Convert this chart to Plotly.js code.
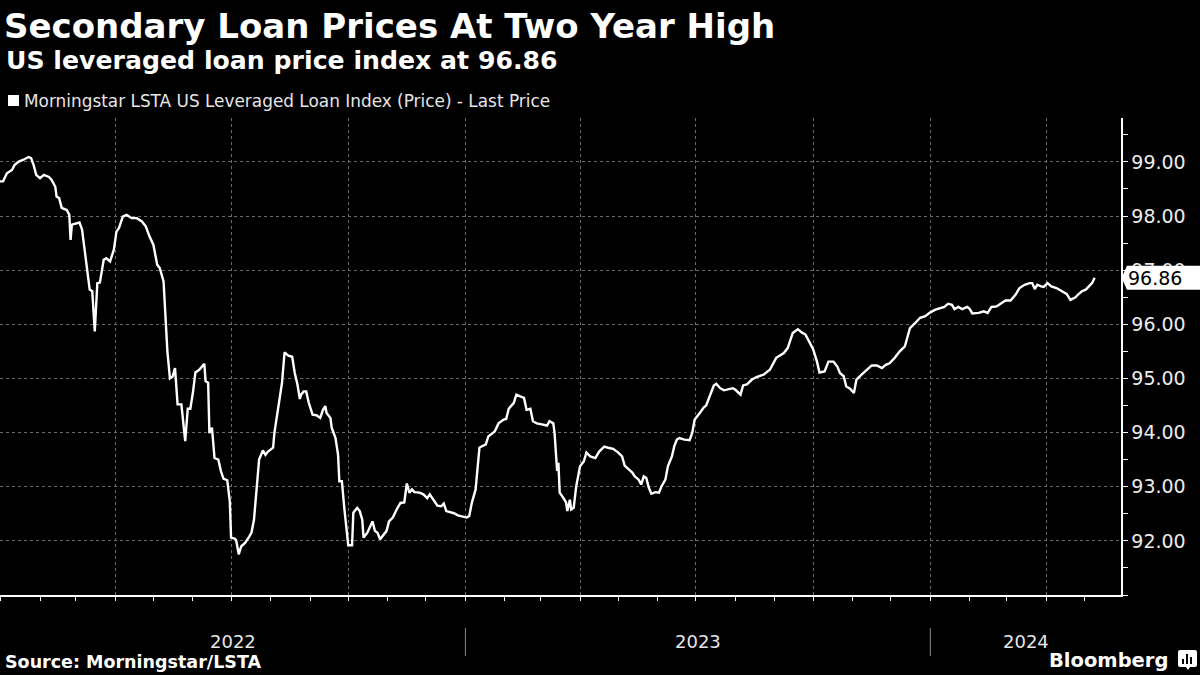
<!DOCTYPE html>
<html>
<head>
<meta charset="utf-8">
<script src="https://cdn.plot.ly/plotly-3.0.1.min.js"></script>
<style>
  html, body { margin:0; padding:0; background:#000; }
  #chart { width:1200px; height:675px; }
</style>
</head>
<body>
<div id="chart"></div>
<script>
// ---------------- DATA ----------------
const chartTitle = "Secondary Loan Prices At Two Year High";
const chartSubtitle = "US leveraged loan price index at 96.86";
const seriesName = "Morningstar LSTA US Leveraged Loan Index (Price) - Last Price";
const sourceText = "Source: Morningstar/LSTA";
const yearLabels = ["2022", "2023", "2024"];
const yTickValues = [92, 93, 94, 95, 96, 97, 98, 99];
const xRange = ["2021-12-31 14:00", "2024-05-29 17:00"];
const yRange = [91.0, 99.81];

const dates = [
"2021-12-31","2022-01-03","2022-01-06","2022-01-10","2022-01-12","2022-01-15","2022-01-19","2022-01-23","2022-01-25","2022-01-27",
"2022-01-29","2022-02-01","2022-02-04","2022-02-08","2022-02-10","2022-02-13","2022-02-14","2022-02-16","2022-02-18","2022-02-22",
"2022-02-24","2022-02-25","2022-02-26","2022-03-02","2022-03-04","2022-03-06","2022-03-08","2022-03-10","2022-03-12","2022-03-14",
"2022-03-16","2022-03-18","2022-03-20","2022-03-23","2022-03-25","2022-03-28","2022-03-31","2022-04-02","2022-04-04","2022-04-07",
"2022-04-10","2022-04-14","2022-04-18","2022-04-22","2022-04-25","2022-04-28","2022-05-01","2022-05-04","2022-05-06","2022-05-09",
"2022-05-10","2022-05-12","2022-05-14","2022-05-16","2022-05-18","2022-05-20","2022-05-23","2022-05-24","2022-05-26","2022-05-28",
"2022-05-30","2022-06-01","2022-06-03","2022-06-06","2022-06-08","2022-06-10","2022-06-11","2022-06-13","2022-06-14","2022-06-16",
"2022-06-18","2022-06-21","2022-06-23","2022-06-25","2022-06-28","2022-06-30","2022-07-01","2022-07-04","2022-07-05","2022-07-07",
"2022-07-09","2022-07-12","2022-07-15","2022-07-17","2022-07-19","2022-07-21","2022-07-23","2022-07-26","2022-07-28","2022-07-30",
"2022-08-03","2022-08-04","2022-08-07","2022-08-10","2022-08-12","2022-08-15","2022-08-18","2022-08-20","2022-08-22","2022-08-24",
"2022-08-25","2022-08-27","2022-08-29","2022-08-31","2022-09-03","2022-09-06","2022-09-09","2022-09-11","2022-09-13","2022-09-14",
"2022-09-17","2022-09-18","2022-09-21","2022-09-23","2022-09-24","2022-09-26","2022-09-28","2022-10-01","2022-10-04","2022-10-05",
"2022-10-08","2022-10-10","2022-10-12","2022-10-13","2022-10-16","2022-10-18","2022-10-20","2022-10-22","2022-10-24","2022-10-26",
"2022-10-28","2022-10-31","2022-11-02","2022-11-05","2022-11-08","2022-11-11","2022-11-14","2022-11-15","2022-11-16","2022-11-18",
"2022-11-20","2022-11-22","2022-11-26","2022-11-29","2022-12-02","2022-12-04","2022-12-07","2022-12-10","2022-12-13","2022-12-15",
"2022-12-17","2022-12-20","2022-12-23","2022-12-26","2022-12-30","2023-01-02","2023-01-04","2023-01-06","2023-01-09","2023-01-10",
"2023-01-12","2023-01-15","2023-01-17","2023-01-19","2023-01-22","2023-01-24","2023-01-27","2023-01-31","2023-02-02","2023-02-04",
"2023-02-08","2023-02-10","2023-02-13","2023-02-16","2023-02-18","2023-02-21","2023-02-23","2023-02-26","2023-03-02","2023-03-06",
"2023-03-08","2023-03-11","2023-03-12","2023-03-14","2023-03-15","2023-03-16","2023-03-19","2023-03-21","2023-03-22","2023-03-24",
"2023-03-25","2023-03-27","2023-03-29","2023-04-01","2023-04-04","2023-04-06","2023-04-09","2023-04-13","2023-04-16","2023-04-20",
"2023-04-23","2023-04-27","2023-05-01","2023-05-04","2023-05-06","2023-05-09","2023-05-12","2023-05-14","2023-05-17","2023-05-19",
"2023-05-21","2023-05-23","2023-05-25","2023-05-27","2023-05-30","2023-06-02","2023-06-04","2023-06-07","2023-06-09","2023-06-12",
"2023-06-14","2023-06-16","2023-06-18","2023-06-22","2023-06-26","2023-06-28","2023-06-30","2023-07-04","2023-07-07","2023-07-09",
"2023-07-12","2023-07-15","2023-07-17","2023-07-20","2023-07-23","2023-07-26","2023-07-30","2023-08-01","2023-08-05","2023-08-07",
"2023-08-10","2023-08-14","2023-08-18","2023-08-23","2023-08-28","2023-09-02","2023-09-08","2023-09-11","2023-09-15","2023-09-19",
"2023-09-22","2023-09-25","2023-09-27","2023-10-01","2023-10-04","2023-10-06","2023-10-10","2023-10-13","2023-10-17","2023-10-20",
"2023-10-22","2023-10-25","2023-10-27","2023-10-30","2023-11-02","2023-11-04","2023-11-08","2023-11-12","2023-11-16","2023-11-20",
"2023-11-24","2023-11-27","2023-11-30","2023-12-04","2023-12-08","2023-12-12","2023-12-16","2023-12-20","2023-12-24","2023-12-28",
"2024-01-01","2024-01-05","2024-01-09","2024-01-12","2024-01-15","2024-01-18","2024-01-20","2024-01-23","2024-01-26","2024-01-30",
"2024-02-01","2024-02-03","2024-02-08","2024-02-12","2024-02-15","2024-02-18","2024-02-22","2024-02-26","2024-02-29","2024-03-04",
"2024-03-08","2024-03-11","2024-03-15","2024-03-19","2024-03-21","2024-03-23","2024-03-25","2024-03-28","2024-03-30","2024-04-02",
"2024-04-05","2024-04-09","2024-04-13","2024-04-17","2024-04-20","2024-04-24","2024-04-26","2024-04-29","2024-05-02","2024-05-04",
"2024-05-07","2024-05-09"
];

const prices = [
98.64,98.64,98.79,98.85,98.94,99.00,99.04,99.09,99.07,98.94,
98.76,98.70,98.76,98.72,98.67,98.54,98.36,98.33,98.15,98.11,
98.02,97.56,97.84,97.87,97.88,97.75,97.38,97.04,96.64,96.61,
95.87,96.76,96.77,97.19,97.22,97.16,97.38,97.71,97.78,97.99,
98.02,97.96,97.96,97.90,97.81,97.62,97.47,97.10,97.04,96.79,
96.33,95.50,95.00,95.03,95.19,94.52,94.52,94.27,93.84,94.44,
94.44,94.73,95.11,95.16,95.22,95.27,94.95,94.92,93.99,94.09,
93.53,93.50,93.29,93.15,93.12,92.73,92.06,92.04,92.01,91.75,
91.90,91.96,92.07,92.15,92.39,93.01,93.50,93.67,93.59,93.65,
93.72,93.99,94.46,94.92,95.48,95.42,95.40,95.10,94.90,94.62,
94.70,94.76,94.76,94.55,94.33,94.32,94.27,94.41,94.49,94.36,
94.27,94.09,93.90,93.59,93.10,93.10,92.58,91.92,91.92,92.52,
92.61,92.55,92.39,92.06,92.15,92.24,92.36,92.18,92.15,92.03,
92.09,92.18,92.36,92.43,92.58,92.70,92.71,92.95,93.06,92.89,
92.95,92.90,92.89,92.86,92.79,92.86,92.76,92.65,92.64,92.69,
92.55,92.53,92.51,92.47,92.44,92.43,92.46,92.70,92.95,93.19,
93.72,93.76,93.78,93.93,93.99,94.02,94.17,94.24,94.25,94.44,
94.55,94.70,94.67,94.64,94.42,94.44,94.21,94.17,94.15,94.13,
94.21,94.17,93.99,93.29,93.44,92.89,92.79,92.71,92.55,92.76,
92.58,92.61,93.01,93.38,93.47,93.63,93.56,93.53,93.65,93.74,
93.72,93.70,93.63,93.56,93.39,93.33,93.26,93.19,93.13,93.04,
93.19,93.16,92.98,92.87,92.90,92.89,93.01,93.13,93.38,93.55,
93.75,93.87,93.90,93.87,93.86,93.99,94.24,94.36,94.46,94.50,
94.67,94.87,94.90,94.82,94.78,94.80,94.82,94.79,94.70,94.87,
94.89,94.98,95.03,95.07,95.16,95.38,95.47,95.56,95.84,95.91,
95.85,95.81,95.72,95.54,95.31,95.11,95.13,95.31,95.31,95.22,
95.10,95.04,94.85,94.81,94.73,94.98,95.07,95.16,95.24,95.24,
95.19,95.25,95.28,95.38,95.50,95.59,95.93,96.02,96.12,96.15,
96.22,96.27,96.30,96.32,96.38,96.36,96.28,96.32,96.28,96.32,
96.28,96.20,96.21,96.24,96.21,96.32,96.33,96.39,96.44,96.44,
96.55,96.67,96.73,96.76,96.76,96.65,96.73,96.70,96.69,96.76,
96.70,96.67,96.61,96.56,96.45,96.50,96.55,96.61,96.64,96.69,
96.76,96.86
];

// ---------------- STYLE ----------------
const FONT = "'DejaVu Sans', sans-serif";
const W = 1200, H = 675;
const M = {l: 0, r: 79, t: 118, b: 80};
const plotW = W - M.l - M.r, plotH = H - M.t - M.b;
const px2paperX = px => (px - M.l) / plotW;
const px2paperY = py => (H - M.b - py) / plotH;

const lastValue = prices[prices.length - 1];
const lastText = lastValue.toFixed(2);

// year label positions: middle of visible part of each year
const t0 = new Date(xRange[0].replace(" ", "T") + "Z").getTime();
const t1 = new Date(xRange[1].replace(" ", "T") + "Z").getTime();
const fmt = ms => new Date(ms).toISOString().slice(0, 19).replace("T", " ");
const yearAnn = yearLabels.map(y => {
  const a = Math.max(t0, Date.UTC(+y, 0, 1));
  const b = Math.min(t1, Date.UTC(+y + 1, 0, 1));
  return {
    x: fmt((a + b) / 2), xref: "x", y: px2paperY(641), yref: "paper",
    text: y, showarrow: false, xanchor: "center", yanchor: "middle",
    font: {family: FONT, size: 18, color: "#e6e6e6"}
  };
});
const yearSeps = yearLabels.slice(1).map(y => ({
  type: "line", xref: "x", yref: "paper",
  x0: y + "-01-01", x1: y + "-01-01",
  y0: px2paperY(628), y1: px2paperY(656),
  line: {color: "#8a8a8a", width: 1}
}));

const trace = {
  x: dates, y: prices, type: "scatter", mode: "lines", name: seriesName,
  line: {color: "#ffffff", width: 2.4}, hoverinfo: "skip"
};

const layout = {
  width: W, height: H,
  paper_bgcolor: "#000", plot_bgcolor: "#000",
  margin: M, showlegend: false,
  font: {family: FONT, color: "#e6e6e6"},
  title: {
    text: chartTitle, xref: "container", yref: "container",
    x: 4 / W, xanchor: "left", y: 1 - 26 / H, yanchor: "middle",
    font: {family: FONT, size: 34, color: "#ffffff", weight: 700}
  },
  xaxis: {
    type: "date", range: xRange, fixedrange: true,
    showgrid: true, gridcolor: "#6a6a6a", griddash: "3px,3px", gridwidth: 1,
    tick0: "2022-01-01", dtick: "M3",
    ticks: "outside", ticklen: 4, tickcolor: "#ffffff", tickwidth: 1,
    showticklabels: false,
    showline: true, linecolor: "#ffffff", linewidth: 1.5, zeroline: false,
    minor: {dtick: "M1", ticks: "outside", ticklen: 4, tickcolor: "#ffffff", showgrid: false}
  },
  yaxis: {
    side: "right", range: yRange, fixedrange: true,
    tickmode: "array", tickvals: yTickValues, ticktext: yTickValues.map(v => v.toFixed(2)),
    showgrid: true, gridcolor: "#6a6a6a", griddash: "3px,3px", gridwidth: 1,
    ticks: "outside", ticklen: 5, tickcolor: "#ffffff",
    showline: true, linecolor: "#ffffff", linewidth: 1.5, zeroline: false,
    tickfont: {family: FONT, size: 19, color: "#ececec"},
    minor: {dtick: 0.5, tick0: 0, ticks: "outside", ticklen: 5, tickcolor: "#ffffff", showgrid: false}
  },
  shapes: [
    // legend swatch
    {type: "rect", xref: "paper", yref: "paper",
     x0: px2paperX(8), x1: px2paperX(19), y0: px2paperY(106), y1: px2paperY(95),
     fillcolor: "#ffffff", line: {width: 0}},
    ...yearSeps,
    // last value pointer
    {type: "path", xref: "paper", xsizemode: "pixel", xanchor: 1,
     yref: "y", ysizemode: "pixel", yanchor: lastValue,
     path: "M0.5,0 L6,12 L80,12 L80,-12 L6,-12 Z",
     fillcolor: "#ffffff", line: {width: 0}, layer: "above"},
    // Bloomberg icon
    {type: "path", xref: "paper", yref: "paper",
     path: `M${px2paperX(1180)},${px2paperY(650)} L${px2paperX(1195)},${px2paperY(650)} ` +
           `Q${px2paperX(1197)},${px2paperY(650)} ${px2paperX(1197)},${px2paperY(652)} ` +
           `L${px2paperX(1197)},${px2paperY(665)} Q${px2paperX(1197)},${px2paperY(667)} ${px2paperX(1195)},${px2paperY(667)} ` +
           `L${px2paperX(1190)},${px2paperY(667)} L${px2paperX(1188)},${px2paperY(670)} L${px2paperX(1186)},${px2paperY(667)} ` +
           `L${px2paperX(1180)},${px2paperY(667)} Q${px2paperX(1178)},${px2paperY(667)} ${px2paperX(1178)},${px2paperY(665)} ` +
           `L${px2paperX(1178)},${px2paperY(652)} Q${px2paperX(1178)},${px2paperY(650)} ${px2paperX(1180)},${px2paperY(650)} Z`,
     fillcolor: "#ffffff", line: {width: 0}},
    {type: "rect", xref: "paper", yref: "paper", x0: px2paperX(1182), x1: px2paperX(1184), y0: px2paperY(664), y1: px2paperY(659), fillcolor: "#000", line: {width: 0}},
    {type: "rect", xref: "paper", yref: "paper", x0: px2paperX(1186), x1: px2paperX(1188), y0: px2paperY(664), y1: px2paperY(654), fillcolor: "#000", line: {width: 0}},
    {type: "rect", xref: "paper", yref: "paper", x0: px2paperX(1190), x1: px2paperX(1192), y0: px2paperY(664), y1: px2paperY(657), fillcolor: "#000", line: {width: 0}}
  ],
  annotations: [
    {text: chartSubtitle, xref: "paper", yref: "paper", x: px2paperX(4), y: px2paperY(60),
     xanchor: "left", yanchor: "middle", showarrow: false,
     font: {family: FONT, size: 25.2, color: "#ffffff", weight: 700}},
    {text: seriesName, xref: "paper", yref: "paper", x: px2paperX(22), y: px2paperY(101),
     xanchor: "left", yanchor: "middle", showarrow: false,
     font: {family: FONT, size: 16.9, color: "#e6e6e6"}},
    {text: sourceText, xref: "paper", yref: "paper", x: px2paperX(3), y: px2paperY(662),
     xanchor: "left", yanchor: "middle", showarrow: false,
     font: {family: FONT, size: 17.5, color: "#ffffff", weight: 700}},
    {text: "Bloomberg", xref: "paper", yref: "paper", x: px2paperX(1170), y: px2paperY(660),
     xanchor: "right", yanchor: "middle", showarrow: false,
     font: {family: FONT, size: 19.5, color: "#ffffff", weight: 700}},
    ...yearAnn,
    {text: lastText, xref: "paper", yref: "y", x: 1, xshift: 5, y: lastValue,
     xanchor: "left", yanchor: "middle", showarrow: false,
     font: {family: FONT, size: 19, color: "#000000"}}
  ]
};

Plotly.newPlot("chart", [trace], layout, {staticPlot: true, displayModeBar: false});
</script>
</body>
</html>
